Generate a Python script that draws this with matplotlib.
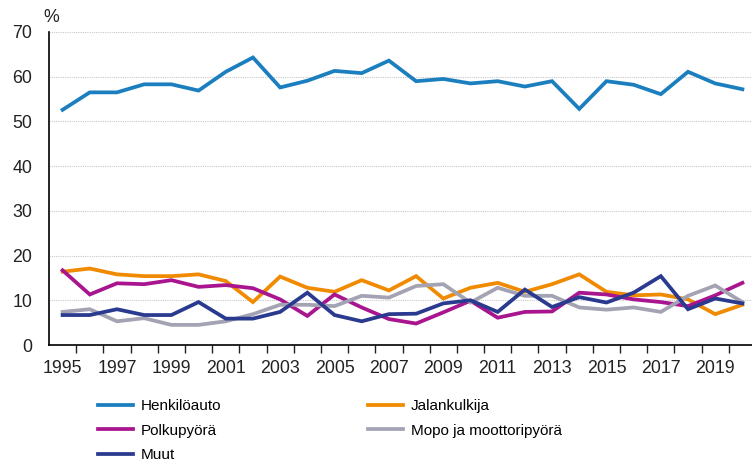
import matplotlib.pyplot as plt
import numpy as np

plt.rcParams['font.family'] = ['Liberation Sans', 'DejaVu Sans']

# --- data ---
years = list(range(1995, 2021))

henkiloauto = [52.6, 56.5, 56.5, 58.3, 58.3, 56.9, 61.1, 64.3, 57.6, 59.1, 61.3, 60.8, 63.6,
               59.0, 59.5, 58.5, 59.0, 57.8, 59.0, 52.8, 59.0, 58.2, 56.1, 61.1, 58.5, 57.2]
jalankulkija = [16.4, 17.1, 15.8, 15.4, 15.4, 15.8, 14.3, 9.6, 15.3, 12.8, 11.9, 14.5, 12.2,
                15.4, 10.4, 12.8, 13.9, 11.9, 13.6, 15.8, 11.9, 11.1, 11.3, 10.2, 6.9, 9.0]
polkupyora = [16.7, 11.3, 13.8, 13.6, 14.5, 13.0, 13.4, 12.7, 10.2, 6.5, 11.3, 8.4, 5.8,
              4.8, 7.3, 9.9, 6.1, 7.4, 7.5, 11.7, 11.3, 10.2, 9.6, 8.7, 11.1, 13.9]
mopo = [7.4, 8.0, 5.3, 6.0, 4.5, 4.5, 5.3, 6.9, 9.0, 9.0, 8.7, 11.0, 10.6,
        13.2, 13.6, 9.5, 12.8, 11.0, 11.0, 8.4, 7.9, 8.4, 7.4, 11.0, 13.3, 9.6]
muut = [6.7, 6.7, 8.0, 6.7, 6.7, 9.6, 5.9, 5.9, 7.4, 11.7, 6.7, 5.3, 6.9,
        7.0, 9.3, 10.0, 7.4, 12.4, 8.5, 10.7, 9.5, 11.7, 15.4, 8.0, 10.4, 9.3]

series = [
    ('Henkilöauto', henkiloauto, '#1b7fbf'),
    ('Jalankulkija', jalankulkija, '#f08a00'),
    ('Polkupyörä', polkupyora, '#a8158f'),
    ('Mopo ja moottoripyörä', mopo, '#a3a3b3'),
    ('Muut', muut, '#2a3a8f'),
]

# --- draw ---
fig = plt.figure(figsize=(7.52, 4.63), dpi=100)
ax = fig.add_axes([49/752, 118/463, 707/752, 313/463])

x = np.arange(len(years))
lines = {}
for name, vals, col in series:
    ln, = ax.plot(x, vals, color=col, lw=2.7, label=name, solid_joinstyle='miter')
    lines[name] = ln

ax.set_xlim(-0.5, len(years) - 0.5)
ax.set_ylim(0, 70)
ax.set_yticks(range(0, 71, 10))
ax.grid(axis='y', color='#c8c8c8', linestyle=(0, (1, 1)), linewidth=0.8)
ax.set_axisbelow(True)

# year labels every other year, tick marks between categories
ax.set_xticks(x[::2])
ax.set_xticklabels([str(y) for y in years[::2]])
ax.set_xticks(x[:-1] + 0.5, minor=True)
ax.tick_params(axis='x', which='major', length=0, pad=11, labelsize=12.8, colors='#222222')
ax.tick_params(axis='x', which='minor', length=6, width=1, color='#222222')
ax.tick_params(axis='y', length=0, pad=12, labelsize=12.8, colors='#222222')

for s in ['top', 'right']:
    ax.spines[s].set_visible(False)
ax.spines['left'].set_linewidth(1.2)
ax.spines['bottom'].set_linewidth(1.2)

fig.text(43/752, 1 - 17/463, '%', fontsize=12.8, va='center', ha='left', color='#222222')

order = ['Henkilöauto', 'Polkupyörä', 'Muut', 'Jalankulkija', 'Mopo ja moottoripyörä']
fig.legend([lines[n] for n in order], order, ncol=2, frameon=False,
           loc='upper left', bbox_to_anchor=(92/752, 1 - 393/463),
           fontsize=11, handlelength=2.3, handletextpad=0.5,
           columnspacing=9.6, labelspacing=0.68, borderaxespad=0)

fig.savefig('out.png', dpi=100)
